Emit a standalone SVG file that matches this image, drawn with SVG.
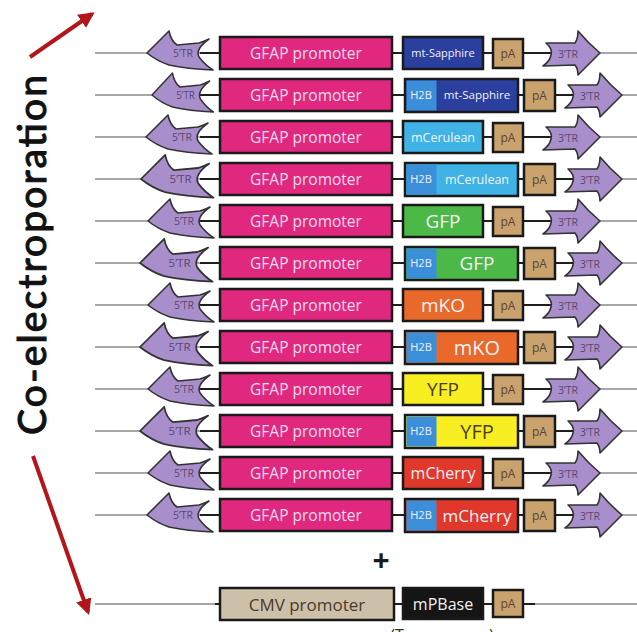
<svg xmlns="http://www.w3.org/2000/svg" width="637" height="632" viewBox="0 0 637 632">
<defs>
<style>
.bg{fill:#ffffff}
.gray{stroke:#8a8a8a;stroke-width:1.3;fill:none}
.blk{stroke:#1e1e1e;stroke-width:2.2;fill:none}
.box{stroke:#1a1a1a;stroke-width:2.5}
.gfap{fill:#e0287f}
.sap{fill:#2b3f9e}
.cer{fill:#3fb3e6}
.h2b{fill:#3a8fd8}
.gfp{fill:#4cb848}
.mko{fill:#e8692a}
.yfp{fill:#f8ee22}
.mch{fill:#e0392b}
.pa{fill:#c9a26e}
.tr{fill:#a88fcc;stroke:#333;stroke-width:1.6;stroke-linejoin:round}
.t{font-family:"Open Sans","Noto Sans",sans-serif;text-anchor:middle}
.tg{font-size:15.5px;fill:#f7dcef}
.tw{fill:#f2f2f8}
.tpa{font-size:12px;fill:#5a4632}
.ttr{font-size:10.5px;fill:#5a4670}
.red{stroke:#b3161a;stroke-width:4;fill:none}
</style>
<marker id="ah" viewBox="0 0 10 10" refX="8" refY="5" markerWidth="4" markerHeight="4" orient="auto" markerUnits="strokeWidth">
<path d="M0,0 L10,5 L0,10 Z" fill="#b3161a"/>
</marker>
</defs>
<rect class="bg" width="637" height="632"/>

<g id="connectors">
<line class="gray" x1="95" y1="53" x2="637" y2="53"/><line class="blk" x1="200" y1="53" x2="560" y2="53"/>
<line class="gray" x1="95" y1="95" x2="637" y2="95"/><line class="blk" x1="200" y1="95" x2="590" y2="95"/>
<line class="gray" x1="95" y1="137" x2="637" y2="137"/><line class="blk" x1="200" y1="137" x2="560" y2="137"/>
<line class="gray" x1="95" y1="179" x2="637" y2="179"/><line class="blk" x1="200" y1="179" x2="590" y2="179"/>
<line class="gray" x1="95" y1="221" x2="637" y2="221"/><line class="blk" x1="200" y1="221" x2="560" y2="221"/>
<line class="gray" x1="95" y1="263" x2="637" y2="263"/><line class="blk" x1="200" y1="263" x2="590" y2="263"/>
<line class="gray" x1="95" y1="305" x2="637" y2="305"/><line class="blk" x1="200" y1="305" x2="560" y2="305"/>
<line class="gray" x1="95" y1="347" x2="637" y2="347"/><line class="blk" x1="200" y1="347" x2="590" y2="347"/>
<line class="gray" x1="95" y1="389" x2="637" y2="389"/><line class="blk" x1="200" y1="389" x2="560" y2="389"/>
<line class="gray" x1="95" y1="431" x2="637" y2="431"/><line class="blk" x1="200" y1="431" x2="590" y2="431"/>
<line class="gray" x1="95" y1="473" x2="637" y2="473"/><line class="blk" x1="200" y1="473" x2="560" y2="473"/>
<line class="gray" x1="95" y1="515" x2="637" y2="515"/><line class="blk" x1="200" y1="515" x2="590" y2="515"/>
<line class="gray" x1="95" y1="604" x2="637" y2="604"/><line class="blk" x1="215" y1="604" x2="535" y2="604"/>
<line id="arrow-top" class="red" x1="30" y1="57" x2="92" y2="14" marker-end="url(#ah)"/>
<line id="arrow-bottom" class="red" x1="33" y1="456" x2="88" y2="612" marker-end="url(#ah)"/>
</g>

<text id="coelectro" x="0" y="0" transform="translate(46,255) rotate(-90)" font-family="Lato,'Open Sans',sans-serif" font-size="39" text-anchor="middle" fill="#111" stroke="#111" stroke-width="1.1" textLength="360" lengthAdjust="spacing">Co-electroporation</text>

<!-- Row 1 -->
<g id="row1">
<g id="r1-5tr" transform="translate(147,53)"><path class="tr" d="M0,0 L22,-22 Q24,-12 30,-8 L52,-10 Q58,-12 62,-14 Q48,-4 52,4 Q58,12 66,17 Q40,16 22,12 Q10,8 0,0 Z"/><text class="t ttr" x="36" y="4">5’TR</text></g>
<g id="r1-gfap"><rect class="box gfap" x="220" y="37" width="172" height="32"/><text class="t tg" x="306" y="58.5">GFAP promoter</text></g>
<g id="r1-fp"><rect class="box sap" x="403" y="37" width="80" height="32"/><text class="t tw" x="443" y="57" font-size="11">mt-Sapphire</text></g>
<g id="r1-pa"><rect class="box pa" x="493" y="39" width="30" height="29"/><text class="t tpa" x="508" y="58">pA</text></g>
<g id="r1-3tr" transform="translate(600,53)"><path class="tr" d="M0,0 Q-12,-10 -22,-22 Q-22,-14 -25,-10 L-54,-10 Q-47,-4 -49,2 Q-50,8 -57,13 L-25,12 Q-22,16 -22,22 Q-10,10 0,0 Z"/><text class="t ttr" x="-32" y="5">3’TR</text></g>
</g>

<!-- Row 2 -->
<g id="row2">
<g id="r2-5tr" transform="translate(152,95) scale(0.93,1)"><path class="tr" d="M0,0 L22,-22 Q24,-12 30,-8 L52,-10 Q58,-12 62,-14 Q48,-4 52,4 Q58,12 66,17 Q40,16 22,12 Q10,8 0,0 Z"/><text class="t ttr" x="36" y="4">5’TR</text></g>
<g id="r2-gfap"><rect class="box gfap" x="220" y="79" width="172" height="32"/><text class="t tg" x="306" y="100.5">GFAP promoter</text></g>
<g id="r2-fp"><rect class="box sap" x="405" y="79" width="113" height="33"/><rect class="h2b" x="406.5" y="80.5" width="30" height="30"/><text class="t tw" x="421" y="99" font-size="11">H2B</text><text class="t tw" x="477" y="99" font-size="11.5">mt-Sapphire</text></g>
<g id="r2-pa"><rect class="box pa" x="524" y="80" width="31" height="31"/><text class="t tpa" x="539.5" y="100">pA</text></g>
<g id="r2-3tr" transform="translate(622,95)"><path class="tr" d="M0,0 Q-12,-10 -22,-22 Q-22,-14 -25,-10 L-54,-10 Q-47,-4 -49,2 Q-50,8 -57,13 L-25,12 Q-22,16 -22,22 Q-10,10 0,0 Z"/><text class="t ttr" x="-32" y="5">3’TR</text></g>
</g>

<!-- Row 3 -->
<g id="row3">
<g id="r3-5tr" transform="translate(146,137)"><path class="tr" d="M0,0 L22,-22 Q24,-12 30,-8 L52,-10 Q58,-12 62,-14 Q48,-4 52,4 Q58,12 66,17 Q40,16 22,12 Q10,8 0,0 Z"/><text class="t ttr" x="36" y="4">5’TR</text></g>
<g id="r3-gfap"><rect class="box gfap" x="220" y="121" width="172" height="32"/><text class="t tg" x="306" y="142.5">GFAP promoter</text></g>
<g id="r3-fp"><rect class="box cer" x="403" y="121" width="80" height="32"/><text class="t tw" x="443" y="141.5" font-size="12.5">mCerulean</text></g>
<g id="r3-pa"><rect class="box pa" x="493" y="123" width="30" height="29"/><text class="t tpa" x="508" y="142">pA</text></g>
<g id="r3-3tr" transform="translate(600,137)"><path class="tr" d="M0,0 Q-12,-10 -22,-22 Q-22,-14 -25,-10 L-54,-10 Q-47,-4 -49,2 Q-50,8 -57,13 L-25,12 Q-22,16 -22,22 Q-10,10 0,0 Z"/><text class="t ttr" x="-32" y="5">3’TR</text></g>
</g>

<!-- Row 4 -->
<g id="row4">
<g id="r4-5tr" transform="translate(141,179) scale(1.1)"><path class="tr" d="M0,0 L22,-22 Q24,-12 30,-8 L52,-10 Q58,-12 62,-14 Q48,-4 52,4 Q58,12 66,17 Q40,16 22,12 Q10,8 0,0 Z"/><text class="t ttr" x="36" y="4">5’TR</text></g>
<g id="r4-gfap"><rect class="box gfap" x="220" y="163" width="172" height="32"/><text class="t tg" x="306" y="184.5">GFAP promoter</text></g>
<g id="r4-fp"><rect class="box cer" x="405" y="163" width="113" height="33"/><rect class="h2b" x="406.5" y="164.5" width="30" height="30"/><text class="t tw" x="421" y="183" font-size="11">H2B</text><text class="t tw" x="477" y="183.5" font-size="12.5">mCerulean</text></g>
<g id="r4-pa"><rect class="box pa" x="524" y="164" width="31" height="31"/><text class="t tpa" x="539.5" y="184">pA</text></g>
<g id="r4-3tr" transform="translate(622,179)"><path class="tr" d="M0,0 Q-12,-10 -22,-22 Q-22,-14 -25,-10 L-54,-10 Q-47,-4 -49,2 Q-50,8 -57,13 L-25,12 Q-22,16 -22,22 Q-10,10 0,0 Z"/><text class="t ttr" x="-32" y="5">3’TR</text></g>
</g>

<!-- Row 5 -->
<g id="row5">
<g id="r5-5tr" transform="translate(148,221)"><path class="tr" d="M0,0 L22,-22 Q24,-12 30,-8 L52,-10 Q58,-12 62,-14 Q48,-4 52,4 Q58,12 66,17 Q40,16 22,12 Q10,8 0,0 Z"/><text class="t ttr" x="36" y="4">5’TR</text></g>
<g id="r5-gfap"><rect class="box gfap" x="220" y="205" width="172" height="32"/><text class="t tg" x="306" y="226.5">GFAP promoter</text></g>
<g id="r5-fp"><rect class="box gfp" x="403" y="205" width="80" height="32"/><text class="t tw" x="443" y="228" font-size="19">GFP</text></g>
<g id="r5-pa"><rect class="box pa" x="493" y="207" width="30" height="29"/><text class="t tpa" x="508" y="226">pA</text></g>
<g id="r5-3tr" transform="translate(600,221)"><path class="tr" d="M0,0 Q-12,-10 -22,-22 Q-22,-14 -25,-10 L-54,-10 Q-47,-4 -49,2 Q-50,8 -57,13 L-25,12 Q-22,16 -22,22 Q-10,10 0,0 Z"/><text class="t ttr" x="-32" y="5">3’TR</text></g>
</g>

<!-- Row 6 -->
<g id="row6">
<g id="r6-5tr" transform="translate(140,263) scale(1.1)"><path class="tr" d="M0,0 L22,-22 Q24,-12 30,-8 L52,-10 Q58,-12 62,-14 Q48,-4 52,4 Q58,12 66,17 Q40,16 22,12 Q10,8 0,0 Z"/><text class="t ttr" x="36" y="4">5’TR</text></g>
<g id="r6-gfap"><rect class="box gfap" x="220" y="247" width="172" height="32"/><text class="t tg" x="306" y="268.5">GFAP promoter</text></g>
<g id="r6-fp"><rect class="box gfp" x="405" y="247" width="113" height="33"/><rect class="h2b" x="406.5" y="248.5" width="30" height="30"/><text class="t tw" x="421" y="267" font-size="11">H2B</text><text class="t tw" x="477" y="270" font-size="19">GFP</text></g>
<g id="r6-pa"><rect class="box pa" x="524" y="248" width="31" height="31"/><text class="t tpa" x="539.5" y="268">pA</text></g>
<g id="r6-3tr" transform="translate(622,263)"><path class="tr" d="M0,0 Q-12,-10 -22,-22 Q-22,-14 -25,-10 L-54,-10 Q-47,-4 -49,2 Q-50,8 -57,13 L-25,12 Q-22,16 -22,22 Q-10,10 0,0 Z"/><text class="t ttr" x="-32" y="5">3’TR</text></g>
</g>

<!-- Row 7 -->
<g id="row7">
<g id="r7-5tr" transform="translate(148,305)"><path class="tr" d="M0,0 L22,-22 Q24,-12 30,-8 L52,-10 Q58,-12 62,-14 Q48,-4 52,4 Q58,12 66,17 Q40,16 22,12 Q10,8 0,0 Z"/><text class="t ttr" x="36" y="4">5’TR</text></g>
<g id="r7-gfap"><rect class="box gfap" x="220" y="289" width="172" height="32"/><text class="t tg" x="306" y="310.5">GFAP promoter</text></g>
<g id="r7-fp"><rect class="box mko" x="403" y="289" width="80" height="32"/><text class="t tw" x="443" y="312" font-size="19">mKO</text></g>
<g id="r7-pa"><rect class="box pa" x="493" y="291" width="30" height="29"/><text class="t tpa" x="508" y="310">pA</text></g>
<g id="r7-3tr" transform="translate(600,305)"><path class="tr" d="M0,0 Q-12,-10 -22,-22 Q-22,-14 -25,-10 L-54,-10 Q-47,-4 -49,2 Q-50,8 -57,13 L-25,12 Q-22,16 -22,22 Q-10,10 0,0 Z"/><text class="t ttr" x="-32" y="5">3’TR</text></g>
</g>

<!-- Row 8 -->
<g id="row8">
<g id="r8-5tr" transform="translate(140,347) scale(1.1)"><path class="tr" d="M0,0 L22,-22 Q24,-12 30,-8 L52,-10 Q58,-12 62,-14 Q48,-4 52,4 Q58,12 66,17 Q40,16 22,12 Q10,8 0,0 Z"/><text class="t ttr" x="36" y="4">5’TR</text></g>
<g id="r8-gfap"><rect class="box gfap" x="220" y="331" width="172" height="32"/><text class="t tg" x="306" y="352.5">GFAP promoter</text></g>
<g id="r8-fp"><rect class="box mko" x="405" y="331" width="113" height="33"/><rect class="h2b" x="406.5" y="332.5" width="30" height="30"/><text class="t tw" x="421" y="351" font-size="11">H2B</text><text class="t tw" x="477" y="354.5" font-size="20">mKO</text></g>
<g id="r8-pa"><rect class="box pa" x="524" y="332" width="31" height="31"/><text class="t tpa" x="539.5" y="352">pA</text></g>
<g id="r8-3tr" transform="translate(622,347)"><path class="tr" d="M0,0 Q-12,-10 -22,-22 Q-22,-14 -25,-10 L-54,-10 Q-47,-4 -49,2 Q-50,8 -57,13 L-25,12 Q-22,16 -22,22 Q-10,10 0,0 Z"/><text class="t ttr" x="-32" y="5">3’TR</text></g>
</g>

<!-- Row 9 -->
<g id="row9">
<g id="r9-5tr" transform="translate(148,389)"><path class="tr" d="M0,0 L22,-22 Q24,-12 30,-8 L52,-10 Q58,-12 62,-14 Q48,-4 52,4 Q58,12 66,17 Q40,16 22,12 Q10,8 0,0 Z"/><text class="t ttr" x="36" y="4">5’TR</text></g>
<g id="r9-gfap"><rect class="box gfap" x="220" y="373" width="172" height="32"/><text class="t tg" x="306" y="394.5">GFAP promoter</text></g>
<g id="r9-fp"><rect class="box yfp" x="403" y="373" width="80" height="32"/><text class="t" x="443" y="396" font-size="19" fill="#4a3f22">YFP</text></g>
<g id="r9-pa"><rect class="box pa" x="493" y="375" width="30" height="29"/><text class="t tpa" x="508" y="394">pA</text></g>
<g id="r9-3tr" transform="translate(600,389)"><path class="tr" d="M0,0 Q-12,-10 -22,-22 Q-22,-14 -25,-10 L-54,-10 Q-47,-4 -49,2 Q-50,8 -57,13 L-25,12 Q-22,16 -22,22 Q-10,10 0,0 Z"/><text class="t ttr" x="-32" y="5">3’TR</text></g>
</g>

<!-- Row 10 -->
<g id="row10">
<g id="r10-5tr" transform="translate(140,431) scale(1.1)"><path class="tr" d="M0,0 L22,-22 Q24,-12 30,-8 L52,-10 Q58,-12 62,-14 Q48,-4 52,4 Q58,12 66,17 Q40,16 22,12 Q10,8 0,0 Z"/><text class="t ttr" x="36" y="4">5’TR</text></g>
<g id="r10-gfap"><rect class="box gfap" x="220" y="415" width="172" height="32"/><text class="t tg" x="306" y="436.5">GFAP promoter</text></g>
<g id="r10-fp"><rect class="box yfp" x="405" y="415" width="113" height="33"/><rect class="h2b" x="406.5" y="416.5" width="30" height="30"/><text class="t tw" x="421" y="435" font-size="11">H2B</text><text class="t" x="477" y="438.5" font-size="20" fill="#4a3f22">YFP</text></g>
<g id="r10-pa"><rect class="box pa" x="524" y="416" width="31" height="31"/><text class="t tpa" x="539.5" y="436">pA</text></g>
<g id="r10-3tr" transform="translate(622,431)"><path class="tr" d="M0,0 Q-12,-10 -22,-22 Q-22,-14 -25,-10 L-54,-10 Q-47,-4 -49,2 Q-50,8 -57,13 L-25,12 Q-22,16 -22,22 Q-10,10 0,0 Z"/><text class="t ttr" x="-32" y="5">3’TR</text></g>
</g>

<!-- Row 11 -->
<g id="row11">
<g id="r11-5tr" transform="translate(148,473)"><path class="tr" d="M0,0 L22,-22 Q24,-12 30,-8 L52,-10 Q58,-12 62,-14 Q48,-4 52,4 Q58,12 66,17 Q40,16 22,12 Q10,8 0,0 Z"/><text class="t ttr" x="36" y="4">5’TR</text></g>
<g id="r11-gfap"><rect class="box gfap" x="220" y="457" width="172" height="32"/><text class="t tg" x="306" y="478.5">GFAP promoter</text></g>
<g id="r11-fp"><rect class="box mch" x="403" y="457" width="80" height="32"/><text class="t tw" x="443" y="479" font-size="16">mCherry</text></g>
<g id="r11-pa"><rect class="box pa" x="493" y="459" width="30" height="29"/><text class="t tpa" x="508" y="478">pA</text></g>
<g id="r11-3tr" transform="translate(600,473)"><path class="tr" d="M0,0 Q-12,-10 -22,-22 Q-22,-14 -25,-10 L-54,-10 Q-47,-4 -49,2 Q-50,8 -57,13 L-25,12 Q-22,16 -22,22 Q-10,10 0,0 Z"/><text class="t ttr" x="-32" y="5">3’TR</text></g>
</g>

<!-- Row 12 -->
<g id="row12">
<g id="r12-5tr" transform="translate(147,515)"><path class="tr" d="M0,0 L22,-22 Q24,-12 30,-8 L52,-10 Q58,-12 62,-14 Q48,-4 52,4 Q58,12 66,17 Q40,16 22,12 Q10,8 0,0 Z"/><text class="t ttr" x="36" y="4">5’TR</text></g>
<g id="r12-gfap"><rect class="box gfap" x="220" y="499" width="172" height="32"/><text class="t tg" x="306" y="520.5">GFAP promoter</text></g>
<g id="r12-fp"><rect class="box mch" x="405" y="499" width="113" height="33"/><rect class="h2b" x="406.5" y="500.5" width="30" height="30"/><text class="t tw" x="421" y="519" font-size="11">H2B</text><text class="t tw" x="477" y="521.5" font-size="17">mCherry</text></g>
<g id="r12-pa"><rect class="box pa" x="524" y="500" width="31" height="31"/><text class="t tpa" x="539.5" y="520">pA</text></g>
<g id="r12-3tr" transform="translate(622,515)"><path class="tr" d="M0,0 Q-12,-10 -22,-22 Q-22,-14 -25,-10 L-54,-10 Q-47,-4 -49,2 Q-50,8 -57,13 L-25,12 Q-22,16 -22,22 Q-10,10 0,0 Z"/><text class="t ttr" x="-32" y="5">3’TR</text></g>
</g>

<text id="plus" class="t" x="381" y="571" font-size="30" font-weight="bold" fill="#1a1a1a">+</text>

<!-- CMV row -->
<g id="cmv-row">
<g id="cmv"><rect class="box" x="220" y="588" width="174" height="32" fill="#cdc0a8"/><text class="t" x="307" y="610.5" font-size="17" fill="#4a3a2a">CMV promoter</text></g>
<g id="mpbase"><rect class="box" x="403" y="588" width="80" height="31" fill="#151515"/><text class="t" x="443" y="610" font-size="16" fill="#f2f2f2">mPBase</text></g>
<g id="cmv-pa"><rect class="box pa" x="493" y="590" width="30" height="27"/><text class="t tpa" x="508" y="608" font-size="11">pA</text></g>
<text id="transposase" class="t" x="442" y="641" font-size="16" fill="#333">(Transposase)</text>
</g>
</svg>
